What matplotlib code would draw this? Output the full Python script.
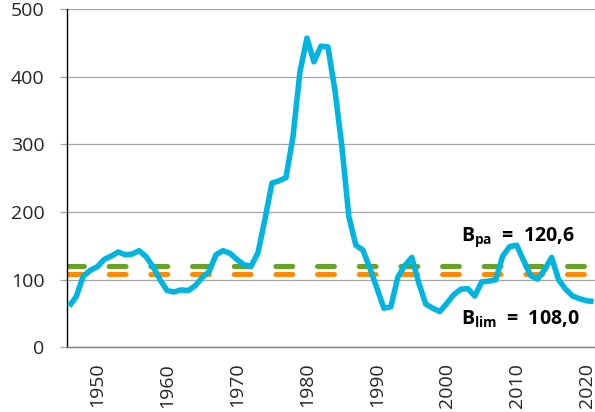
import numpy as np
import matplotlib
matplotlib.use("Agg")
import matplotlib.pyplot as plt

# ---- data ----
years = np.arange(1946, 2022)
biomass = [61, 75, 105, 114, 119, 130, 135, 141, 137, 138,
           143, 134, 119, 100, 84, 82, 85, 84, 91, 103,
           112, 137, 143, 139, 130, 122, 120, 140, 190, 243,
           246, 251, 311, 407, 457, 422, 445, 444, 380, 297,
           193, 151, 144, 117, 88, 58, 60, 104, 121, 133,
           95, 64, 58, 53, 65, 78, 86, 87, 76, 97,
           98, 100, 135, 149, 151, 128, 106, 101, 115, 133,
           100, 86, 76, 72, 69, 68]
B_pa = 120.6
B_lim = 108.0
yticks = [0, 100, 200, 300, 400, 500]
xticks = [1950, 1960, 1970, 1980, 1990, 2000, 2010, 2020]

plt.rcParams['font.family'] = ['Open Sans', 'DejaVu Sans']
plt.rcParams['mathtext.fontset'] = 'custom'
plt.rcParams['mathtext.bf'] = 'Open Sans:bold'
plt.rcParams['mathtext.rm'] = 'Open Sans'
plt.rcParams['lines.scale_dashes'] = False

fig = plt.figure(figsize=(5.95, 4.12), dpi=100)
ax = fig.add_axes([0.112, 0.1566, 0.888, 0.8216])

# reference lines
ax.plot([1945.63, 2021.2], [B_pa, B_pa], color='#67A324', lw=3.6,
        dashes=(12.2, 17.8), dash_capstyle='round', zorder=2)
ax.plot([1945.63, 2021.2], [B_lim, B_lim], color='#FF8A00', lw=3.6,
        dashes=(12.2, 17.8), dash_capstyle='round', zorder=2)

# biomass series
ax.plot(years, biomass, color='#00B4E0', lw=4.0, solid_joinstyle='round',
        solid_capstyle='butt', zorder=3, clip_on=False)

ax.set_xlim(1945.63, 2021.2)
ax.set_ylim(0, 500)
ax.set_yticks(yticks)
ax.set_xticks(xticks)
ax.set_xticklabels([str(x) for x in xticks], rotation=90)
ax.grid(axis='y', color='#A6A6A6', lw=0.9, zorder=0)
ax.set_axisbelow(True)

for s in ['top', 'right']:
    ax.spines[s].set_visible(False)
ax.spines['left'].set_color('#000000')
ax.spines['left'].set_linewidth(1.0)
ax.spines['bottom'].set_color('#7F7F7F')
ax.spines['bottom'].set_linewidth(1.0)

ax.tick_params(axis='y', length=5, color='#A6A6A6', width=0.9, pad=11,
               labelsize=14, labelcolor='#262626')
ax.tick_params(axis='x', length=0, pad=11, labelsize=14, labelcolor='#262626')

ax.text(2002.1, 158, r'$\mathbf{B}_{\mathbf{pa}}$  =  120,6', fontsize=14,
        fontweight='bold', color='#000000', ha='left', va='baseline')
ax.text(2002.1, 33, r'$\mathbf{B}_{\mathbf{lim}}$  =  108,0', fontsize=14,
        fontweight='bold', color='#000000', ha='left', va='baseline')

fig.savefig('out.png', dpi=100)
